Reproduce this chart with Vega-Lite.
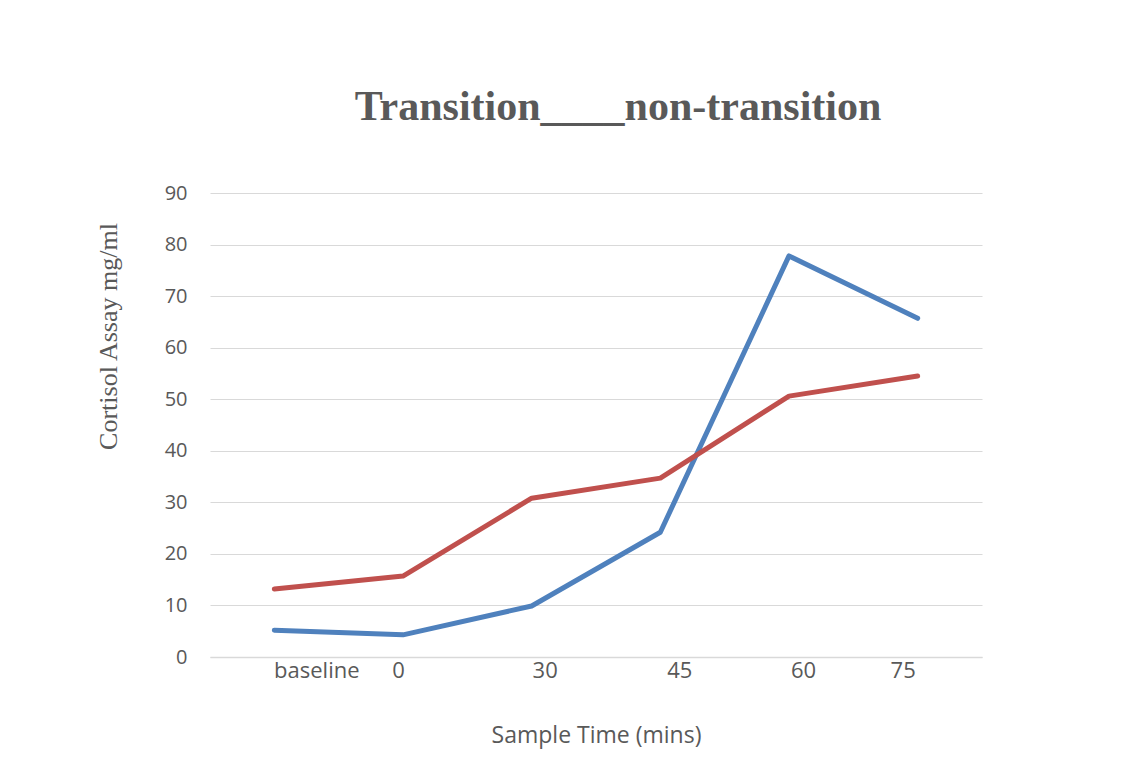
{
  "$schema": "https://vega.github.io/schema/vega-lite/v6.json",
  "autosize": "none",
  "width": 772,
  "height": 464,
  "padding": {"left": 210, "top": 193, "right": 164, "bottom": 115},
  "background": "white",
  "title": {
    "text": "Transition____non-transition",
    "font": "Liberation Serif",
    "fontSize": 42,
    "fontWeight": "bold",
    "color": "#595959",
    "anchor": "middle",
    "dx": 22,
    "baseline": "alphabetic",
    "offset": 21
  },
  "data": {
    "values": [
      {"time": "baseline", "group": "Transition", "cortisol": 5.2},
      {"time": "0", "group": "Transition", "cortisol": 4.3},
      {"time": "30", "group": "Transition", "cortisol": 9.9},
      {"time": "45", "group": "Transition", "cortisol": 24.2},
      {"time": "60", "group": "Transition", "cortisol": 77.8},
      {"time": "75", "group": "Transition", "cortisol": 65.7},
      {"time": "baseline", "group": "Non-transition", "cortisol": 13.2},
      {"time": "0", "group": "Non-transition", "cortisol": 15.7},
      {"time": "30", "group": "Non-transition", "cortisol": 30.8},
      {"time": "45", "group": "Non-transition", "cortisol": 34.7},
      {"time": "60", "group": "Non-transition", "cortisol": 50.6},
      {"time": "75", "group": "Non-transition", "cortisol": 54.5}
    ]
  },
  "mark": {"type": "line", "strokeWidth": 5, "strokeCap": "round", "strokeJoin": "round"},
  "encoding": {
    "x": {
      "field": "time",
      "type": "ordinal",
      "sort": null,
      "title": "Sample Time (mins)",
      "axis": {
        "labelAngle": 0,
        "labelFont": "Open Sans",
        "labelFontSize": 22,
        "labelColor": "#595959",
        "labelPadding": 3,
        "labelOffset": {
          "condition": [
            {"test": "datum.label == 'baseline'", "value": 42},
            {"test": "datum.label == '0'", "value": -5},
            {"test": "datum.label == '30'", "value": 13},
            {"test": "datum.label == '45'", "value": 19},
            {"test": "datum.label == '60'", "value": 14},
            {"test": "datum.label == '75'", "value": -15}
          ],
          "value": 0
        },
        "ticks": false,
        "domainColor": "#D9D9D9",
        "domainWidth": 1.5,
        "titleFont": "Open Sans",
        "titleFontSize": 23,
        "titleFontWeight": "normal",
        "titleColor": "#595959",
        "titlePadding": 43
      }
    },
    "y": {
      "field": "cortisol",
      "type": "quantitative",
      "title": "Cortisol Assay mg/ml",
      "scale": {"domain": [0, 90], "nice": false},
      "axis": {
        "values": [0, 10, 20, 30, 40, 50, 60, 70, 80, 90],
        "domain": false,
        "ticks": false,
        "gridColor": "#D9D9D9",
        "gridWidth": 1.2,
        "labelFont": "Open Sans",
        "labelFontSize": 20,
        "labelColor": "#595959",
        "labelPadding": 23,
        "titleFont": "Liberation Serif",
        "titleFontSize": 26,
        "titleFontWeight": "normal",
        "titleColor": "#595959",
        "titleAngle": 270,
        "titleAlign": "center",
        "titleBaseline": "alphabetic",
        "titleX": -94,
        "titleY": 143
      }
    },
    "color": {
      "field": "group",
      "type": "nominal",
      "scale": {"domain": ["Transition", "Non-transition"], "range": ["#4F81BD", "#C0504D"]},
      "legend": null
    }
  },
  "config": {"view": {"stroke": null}}
}
